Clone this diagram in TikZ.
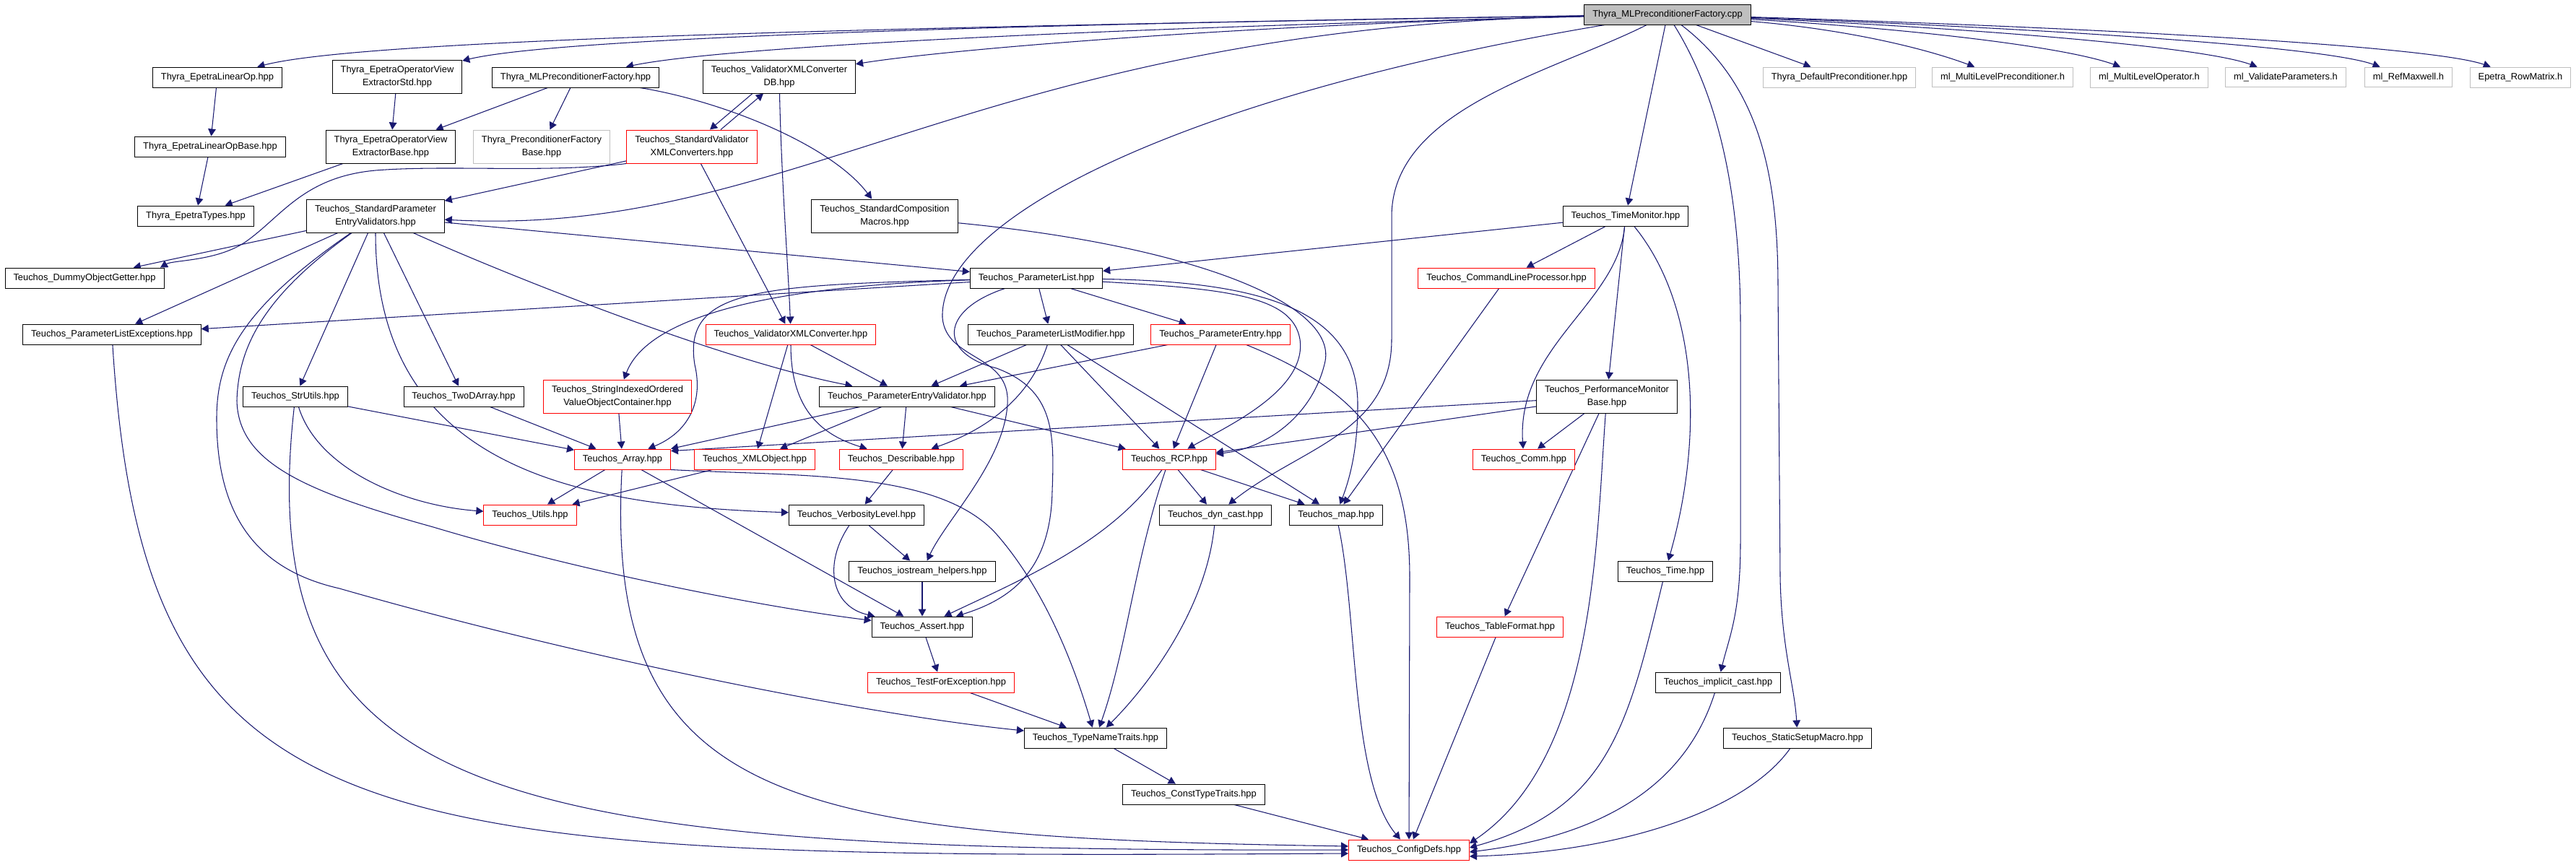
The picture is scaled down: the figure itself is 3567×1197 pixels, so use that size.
\documentclass[tikz,border=0pt]{standalone}
\usepackage{fontspec}
\setmainfont{Liberation Sans}
\usepackage{tikz}
\usetikzlibrary{calc,arrows.meta,backgrounds}
\definecolor{incblue}{HTML}{191970}
\definecolor{extgray}{HTML}{BFBFBF}

\begin{document}
\begin{tikzpicture}[x=0.03cm,y=-0.03cm,
    file/.style={draw=black,line width=0.8pt,fill=white,inner xsep=0.345cm,inner ysep=0.24cm,align=center,font=\fontsize{11}{15.4}\selectfont},
    redfile/.style={file,draw=red},
    extfile/.style={file,draw=extgray},
    rootfile/.style={file,fill=extgray},
    inc/.style={draw=incblue,line width=0.9pt,-{Triangle[length=0.3cm,width=0.32cm]}}]
      \useasboundingbox (0,0) rectangle (3567,1197);
      \node[rootfile] (root) at (2309,20) {Thyra\_MLPreconditionerFactory.cpp};
      \node[file] (telo) at (301,107) {Thyra\_EpetraLinearOp.hpp};
      \node[file] (teovs) at (550,106) {Thyra\_EpetraOperatorView\\ExtractorStd.hpp};
      \node[file] (tmlpf) at (797,107) {Thyra\_MLPreconditionerFactory.hpp};
      \node[file] (vxcdb) at (1079,106) {Teuchos\_ValidatorXMLConverter\\DB.hpp};
      \node[extfile] (tdp) at (2547,107) {Thyra\_DefaultPreconditioner.hpp};
      \node[extfile] (mlp) at (2773,107) {ml\_MultiLevelPreconditioner.h};
      \node[extfile] (mlo) at (2976,107) {ml\_MultiLevelOperator.h};
      \node[extfile] (mlv) at (3165,107) {ml\_ValidateParameters.h};
      \node[extfile] (mlr) at (3335,107) {ml\_RefMaxwell.h};
      \node[extfile] (erm) at (3490,107) {Epetra\_RowMatrix.h};
      \node[file] (telob) at (291,203) {Thyra\_EpetraLinearOpBase.hpp};
      \node[file] (teovb) at (541,203) {Thyra\_EpetraOperatorView\\ExtractorBase.hpp};
      \node[extfile] (tpfb) at (750,203) {Thyra\_PreconditionerFactory\\Base.hpp};
      \node[redfile] (svxc) at (958,203) {Teuchos\_StandardValidator\\XMLConverters.hpp};
      \node[file] (tet) at (271,299) {Thyra\_EpetraTypes.hpp};
      \node[file] (spev) at (520,299) {Teuchos\_StandardParameter\\EntryValidators.hpp};
      \node[file] (scm) at (1225,299) {Teuchos\_StandardComposition\\Macros.hpp};
      \node[file] (tm) at (2251,299) {Teuchos\_TimeMonitor.hpp};
      \node[file] (dog) at (117,385) {Teuchos\_DummyObjectGetter.hpp};
      \node[file] (pl) at (1435,385) {Teuchos\_ParameterList.hpp};
      \node[redfile] (clp) at (2086,385) {Teuchos\_CommandLineProcessor.hpp};
      \node[file] (ple) at (155,463) {Teuchos\_ParameterListExceptions.hpp};
      \node[redfile] (vxc) at (1095,463) {Teuchos\_ValidatorXMLConverter.hpp};
      \node[file] (plm) at (1455,463) {Teuchos\_ParameterListModifier.hpp};
      \node[redfile] (pe) at (1690,463) {Teuchos\_ParameterEntry.hpp};
      \node[file] (su) at (409,549) {Teuchos\_StrUtils.hpp};
      \node[file] (tda) at (642,549) {Teuchos\_TwoDArray.hpp};
      \node[redfile] (siovoc) at (855,549) {Teuchos\_StringIndexedOrdered\\ValueObjectContainer.hpp};
      \node[file] (pev) at (1256,549) {Teuchos\_ParameterEntryValidator.hpp};
      \node[file] (pmb) at (2225,549) {Teuchos\_PerformanceMonitor\\Base.hpp};
      \node[redfile] (arr) at (862,636) {Teuchos\_Array.hpp};
      \node[redfile] (xml) at (1045,636) {Teuchos\_XMLObject.hpp};
      \node[redfile] (desc) at (1248,636) {Teuchos\_Describable.hpp};
      \node[redfile] (rcp) at (1619,636) {Teuchos\_RCP.hpp};
      \node[redfile] (comm) at (2110,636) {Teuchos\_Comm.hpp};
      \node[redfile] (utils) at (734,713) {Teuchos\_Utils.hpp};
      \node[file] (vl) at (1186,713) {Teuchos\_VerbosityLevel.hpp};
      \node[file] (dyn) at (1683,713) {Teuchos\_dyn\_cast.hpp};
      \node[file] (map) at (1850,713) {Teuchos\_map.hpp};
      \node[file] (ioh) at (1277,791) {Teuchos\_iostream\_helpers.hpp};
      \node[file] (time) at (2306,791) {Teuchos\_Time.hpp};
      \node[file] (assert) at (1277,868) {Teuchos\_Assert.hpp};
      \node[redfile] (tf) at (2077,868) {Teuchos\_TableFormat.hpp};
      \node[redfile] (tfe) at (1303,945) {Teuchos\_TestForException.hpp};
      \node[file] (ic) at (2379,945) {Teuchos\_implicit\_cast.hpp};
      \node[file] (tnt) at (1517,1022) {Teuchos\_TypeNameTraits.hpp};
      \node[file] (ssm) at (2489,1022) {Teuchos\_StaticSetupMacro.hpp};
      \node[file] (ctt) at (1653,1100) {Teuchos\_ConstTypeTraits.hpp};
      \node[redfile] (cd) at (1951,1177) {Teuchos\_ConfigDefs.hpp};
      \begin{pgfonlayer}{background}
      \fill[white] (0,0) rectangle (3567,1197);
      \draw[inc] (root) .. controls (1200,38) and (500,55) .. (telo);
      \draw[inc] (root) .. controls (1300,35) and (760,55) .. (teovs);
      \draw[inc] (root) .. controls (1500,40) and (1000,65) .. (tmlpf);
      \draw[inc] (root) .. controls (1700,35) and (1300,70) .. (vxcdb);
      \draw[inc] (root) .. controls (1350,40) and (1100,330) .. (spev);
      \draw[inc] (root) .. controls (1650,130) and (1300,300) .. (1305,440) .. controls (1310,500) and (1400,490) .. (1395,560) .. controls (1390,640) and (1310,720) .. (ioh);
      \draw[inc] (root) .. controls (2150,100) and (1927,150) .. (1927,300) -- (1927,470) .. controls (1927,600) and (1800,620) .. (dyn);
      \draw[inc] (root) .. controls (2390,150) and (2410,300) .. (2410,450) -- (2410,750) .. controls (2410,850) and (2395,880) .. (ic);
      \draw[inc] (root) .. controls (2440,120) and (2462,250) .. (2462,400) -- (2465,800) .. controls (2467,900) and (2485,950) .. (ssm);
      \draw[inc] (root) -- (tm);
      \draw[inc] (root) -- (tdp);
      \foreach \b/\p/\q in {mlp/2550/2660, mlo/2650/2860, mlv/2750/3050, mlr/2850/3220, erm/2950/3370}
        \draw[inc] (root) .. controls (\p,40) and (\q,65) .. (\b);
      \foreach \a/\b in {telo/telob, telob/tet, teovs/teovb, teovb/tet, tmlpf/teovb, tmlpf/tpfb, svxc/spev, svxc/vxc, spev/dog, spev/ple, spev/su, spev/tda, spev/pl, pl/ple, pl/plm, pl/pe, tm/pl, tm/clp, tm/pmb, clp/map, plm/pev, plm/rcp, plm/map, pe/pev, pe/rcp, vxc/pev, vxc/xml, su/arr, tda/arr, siovoc/arr, pev/xml, pev/desc, pev/rcp, pmb/rcp, pmb/comm, pmb/tf, arr/utils, arr/assert, xml/utils, desc/vl, vl/ioh, ioh/assert, assert/tfe, tfe/tnt, rcp/dyn, rcp/map, tnt/ctt, ctt/cd, tf/cd}
        \draw[inc] (\a) -- (\b);
      \draw[inc] (tmlpf) .. controls (1000,140) and (1150,200) .. (scm);
      \draw[inc] ($(vxcdb.south)+(-37,0)$) -- ($(svxc.north)+(25,0)$);
      \draw[inc] ($(svxc.north)+(40,0)$) -- ($(vxcdb.south)+(-22,0)$);
      \draw[inc] (vxcdb) .. controls (1082,250) and (1092,380) .. (vxc);
      \draw[inc] (svxc.south west) .. controls (760,240) and (620,228) .. (520,236) .. controls (420,245) and (390,300) .. (340,335) .. controls (300,362) and (240,360) .. ($(dog.north)+(105,0)$);
      \draw[inc] (spev) .. controls (700,380) and (1000,500) .. (pev);
      \draw[inc] (spev) .. controls (520,650) and (800,700) .. (vl);
      \draw[inc] (spev) .. controls (365,410) and (330,480) .. (328,555) .. controls (330,640) and (420,680) .. (600,730) .. controls (800,790) and (1050,840) .. (assert);
      \draw[inc] (spev) .. controls (330,430) and (300,500) .. (300,580) .. controls (300,720) and (360,790) .. (470,815) .. controls (800,910) and (1200,990) .. (tnt);
      \draw[inc] (pl) .. controls (1100,395) and (900,430) .. (siovoc);
      \draw[inc] (pl) .. controls (1050,395) and (945,400) .. (962,505) .. controls (975,560) and (950,600) .. (arr);
      \draw[inc] (pl) .. controls (1300,430) and (1300,490) .. (1380,510) .. controls (1460,540) and (1460,600) .. (1457,680) .. controls (1455,790) and (1400,830) .. (assert);
      \draw[inc] (pl) .. controls (1700,400) and (1790,410) .. (1800,470) .. controls (1810,540) and (1700,590) .. (rcp);
      \draw[inc] (pl) .. controls (1750,390) and (1880,430) .. (1880,560) .. controls (1880,620) and (1870,660) .. (map);
      \draw[inc] (scm) .. controls (1650,340) and (1850,420) .. (1835,500) .. controls (1820,570) and (1760,620) .. (rcp);
      \draw[inc] (plm) .. controls (1430,540) and (1380,590) .. (desc);
      \draw[inc] (pe) .. controls (1880,540) and (1952,620) .. (1952,800) -- (cd);
      \draw[inc] (vxc) .. controls (1095,560) and (1130,600) .. (desc);
      \draw[inc] (su) .. controls (440,650) and (560,700) .. (utils);
      \draw[inc] (vl) .. controls (1140,780) and (1150,840) .. (assert);
      \draw[inc] (rcp) .. controls (1540,750) and (1420,800) .. (assert);
      \draw[inc] (rcp) .. controls (1570,780) and (1560,900) .. (tnt);
      \draw[inc] (dyn) .. controls (1670,850) and (1580,960) .. (tnt);
      \draw[inc] (arr.south east) .. controls (1100,660) and (1300,650) .. (1380,740) .. controls (1450,820) and (1490,930) .. (tnt);
      \draw[inc] (map) .. controls (1880,850) and (1870,1080) .. (cd);
      \draw[inc] (tm) .. controls (2240,420) and (2100,480) .. (comm);
      \draw[inc] (tm) .. controls (2350,420) and (2360,600) .. (time);
      \draw[inc] (pmb) .. controls (2210,750) and (2210,1050) .. ($(cd.east)+(0,-9)$);
      \draw[inc] (time) .. controls (2255,1000) and (2230,1120) .. ($(cd.east)+(0,-3)$);
      \draw[inc] (ic) .. controls (2330,1100) and (2200,1160) .. ($(cd.east)+(0,3)$);
      \draw[inc] (ssm) .. controls (2420,1120) and (2250,1180) .. ($(cd.east)+(0,9)$);
      \draw[inc] (pmb) -- ($(arr.north east)+(0,3)$);
      \draw[inc] (pev) -- (arr.north east);
      \draw[inc] (ple) .. controls (200,1180) and (500,1190) .. ($(cd.west)+(0,5)$);
      \draw[inc] (su) .. controls (345,1120) and (700,1180) .. (cd.west);
      \draw[inc] (arr) .. controls (835,1120) and (1100,1160) .. ($(cd.west)+(0,-5)$);
      \end{pgfonlayer}
    \end{tikzpicture}
\end{document}
